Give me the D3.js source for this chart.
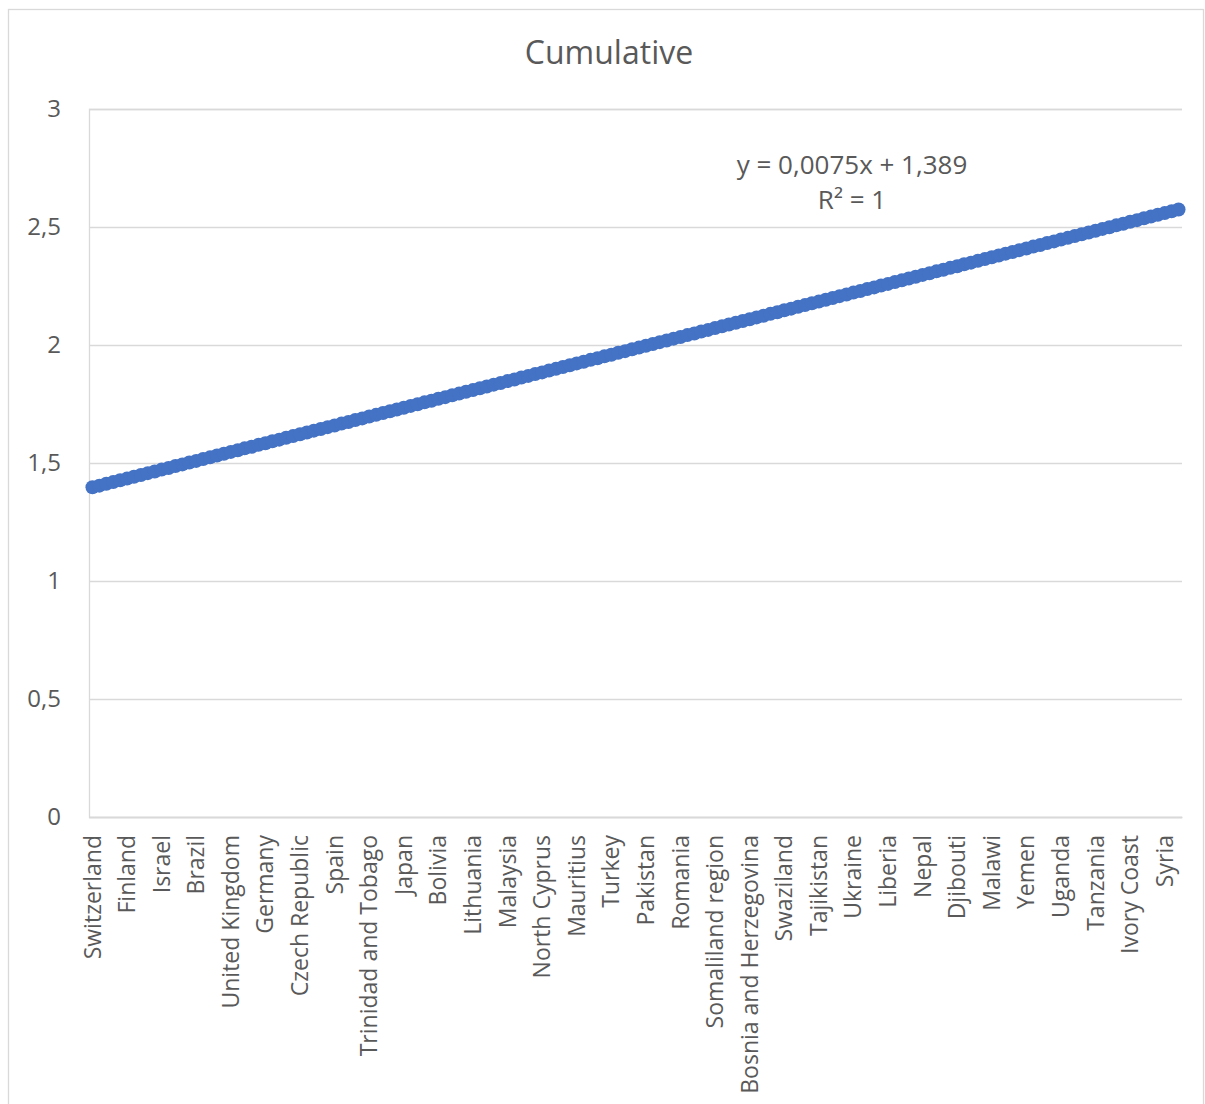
<!DOCTYPE html>
<html>
<head>
<meta charset="utf-8">
<script src="https://cdn.jsdelivr.net/npm/d3@7"></script>
<style>
  html, body { margin: 0; padding: 0; background: #fff; }
  svg { display: block; font-family: "Open Sans", "Noto Sans", sans-serif; }
</style>
</head>
<body>
<svg id="chart" width="1205" height="1104"></svg>
<script>
const title = "Cumulative";
const trendLabel = ["y = 0,0075x + 1,389", "R\u00B2 = 1"];

// Labelled categories (every 5th category is labelled on the axis)
const tickLabels = [
  "Switzerland", "Finland", "Israel", "Brazil", "United Kingdom", "Germany",
  "Czech Republic", "Spain", "Trinidad and Tobago", "Japan", "Bolivia",
  "Lithuania", "Malaysia", "North Cyprus", "Mauritius", "Turkey", "Pakistan",
  "Romania", "Somaliland region", "Bosnia and Herzegovina", "Swaziland",
  "Tajikistan", "Ukraine", "Liberia", "Nepal", "Djibouti", "Malawi", "Yemen",
  "Uganda", "Tanzania", "Ivory Coast", "Syria"
];
const labelEvery = 5;

// Series values (158 categories)
const values = [
  1.397,1.404,1.412,1.419,1.427,1.434,1.442,1.449,1.457,1.464,
  1.472,1.479,1.487,1.494,1.502,1.509,1.517,1.524,1.532,1.539,
  1.547,1.554,1.562,1.569,1.577,1.584,1.592,1.599,1.607,1.614,
  1.622,1.629,1.637,1.644,1.652,1.659,1.667,1.674,1.682,1.689,
  1.697,1.704,1.712,1.719,1.727,1.734,1.742,1.749,1.757,1.764,
  1.772,1.779,1.787,1.794,1.802,1.809,1.817,1.824,1.832,1.839,
  1.847,1.854,1.862,1.869,1.877,1.884,1.892,1.899,1.907,1.914,
  1.922,1.929,1.937,1.944,1.952,1.959,1.967,1.974,1.982,1.989,
  1.997,2.004,2.012,2.019,2.027,2.034,2.042,2.049,2.057,2.064,
  2.072,2.079,2.087,2.094,2.102,2.109,2.117,2.124,2.132,2.139,
  2.147,2.154,2.162,2.169,2.177,2.184,2.192,2.199,2.207,2.214,
  2.222,2.229,2.237,2.244,2.252,2.259,2.267,2.274,2.282,2.289,
  2.297,2.304,2.312,2.319,2.327,2.334,2.342,2.349,2.357,2.364,
  2.372,2.379,2.387,2.394,2.402,2.409,2.417,2.424,2.432,2.439,
  2.447,2.454,2.462,2.469,2.477,2.484,2.492,2.499,2.507,2.514,
  2.522,2.529,2.537,2.544,2.552,2.559,2.567,2.574
];

const yTicks = [0, 0.5, 1, 1.5, 2, 2.5, 3];

const svg = d3.select("#chart");
const plot = { left: 89, right: 1182, top: 109, bottom: 817 };
const textColor = "#595959", gridColor = "#D9D9D9", lineColor = "#4472C4";

// Outer chart border
svg.append("rect")
  .attr("x", 8.5).attr("y", 9.5)
  .attr("width", 1195).attr("height", 1110)
  .attr("fill", "#fff").attr("stroke", gridColor).attr("stroke-width", 1.3);

const x = d3.scaleBand()
  .domain(values.map((d, i) => i))
  .range([plot.left, plot.right]);
const y = d3.scaleLinear().domain([0, 3]).range([plot.bottom, plot.top]);

// Y axis with gridlines
const yAxis = d3.axisLeft(y).tickValues(yTicks)
  .tickSize(-(plot.right - plot.left))
  .tickPadding(28)
  .tickFormat(d => d3.format("")(d).replace(".", ","));
const gy = svg.append("g").attr("transform", `translate(${plot.left},0)`).call(yAxis);
gy.select(".domain").attr("stroke", gridColor).attr("stroke-width", 1.3);
gy.selectAll(".tick line").attr("stroke", gridColor).attr("stroke-width", 1.3);
gy.selectAll(".tick text")
  .attr("fill", textColor).attr("font-size", 24)
  .attr("font-family", "Open Sans, Noto Sans, sans-serif");

// X axis
const labelIdx = tickLabels.map((d, k) => k * labelEvery);
const xAxis = d3.axisBottom(x).tickValues(labelIdx)
  .tickSize(0).tickPadding(0)
  .tickFormat(i => tickLabels[i / labelEvery]);
const gx = svg.append("g").attr("transform", `translate(0,${plot.bottom})`).call(xAxis);
gx.select(".domain").attr("stroke", gridColor).attr("stroke-width", 1.3);
gx.selectAll(".tick text")
  .attr("fill", textColor).attr("font-size", 23)
  .attr("font-family", "Open Sans, Noto Sans, sans-serif")
  .attr("text-anchor", "end")
  .attr("dy", "0.35em")
  .attr("transform", "translate(0,18) rotate(-90)")
  .attr("x", 0).attr("y", 0);

// Series line and markers
const cx = i => x(i) + x.bandwidth() / 2;
const line = d3.line().x((d, i) => cx(i)).y(d => y(d));
svg.append("path").datum(values)
  .attr("d", line).attr("fill", "none")
  .attr("stroke", lineColor).attr("stroke-width", 4);
svg.append("g").selectAll("circle").data(values).join("circle")
  .attr("cx", (d, i) => cx(i)).attr("cy", d => y(d))
  .attr("r", 7).attr("fill", lineColor);

// Title
svg.append("text")
  .attr("x", 609).attr("y", 64)
  .attr("text-anchor", "middle")
  .attr("font-size", 32).attr("fill", textColor)
  .text(title);

// Trendline label
const tl = svg.append("text")
  .attr("text-anchor", "middle").attr("fill", textColor).attr("font-size", 26);
trendLabel.forEach((t, k) => {
  tl.append("tspan").attr("x", 852).attr("y", 174 + k * 35).text(t);
});
</script>
</body>
</html>
